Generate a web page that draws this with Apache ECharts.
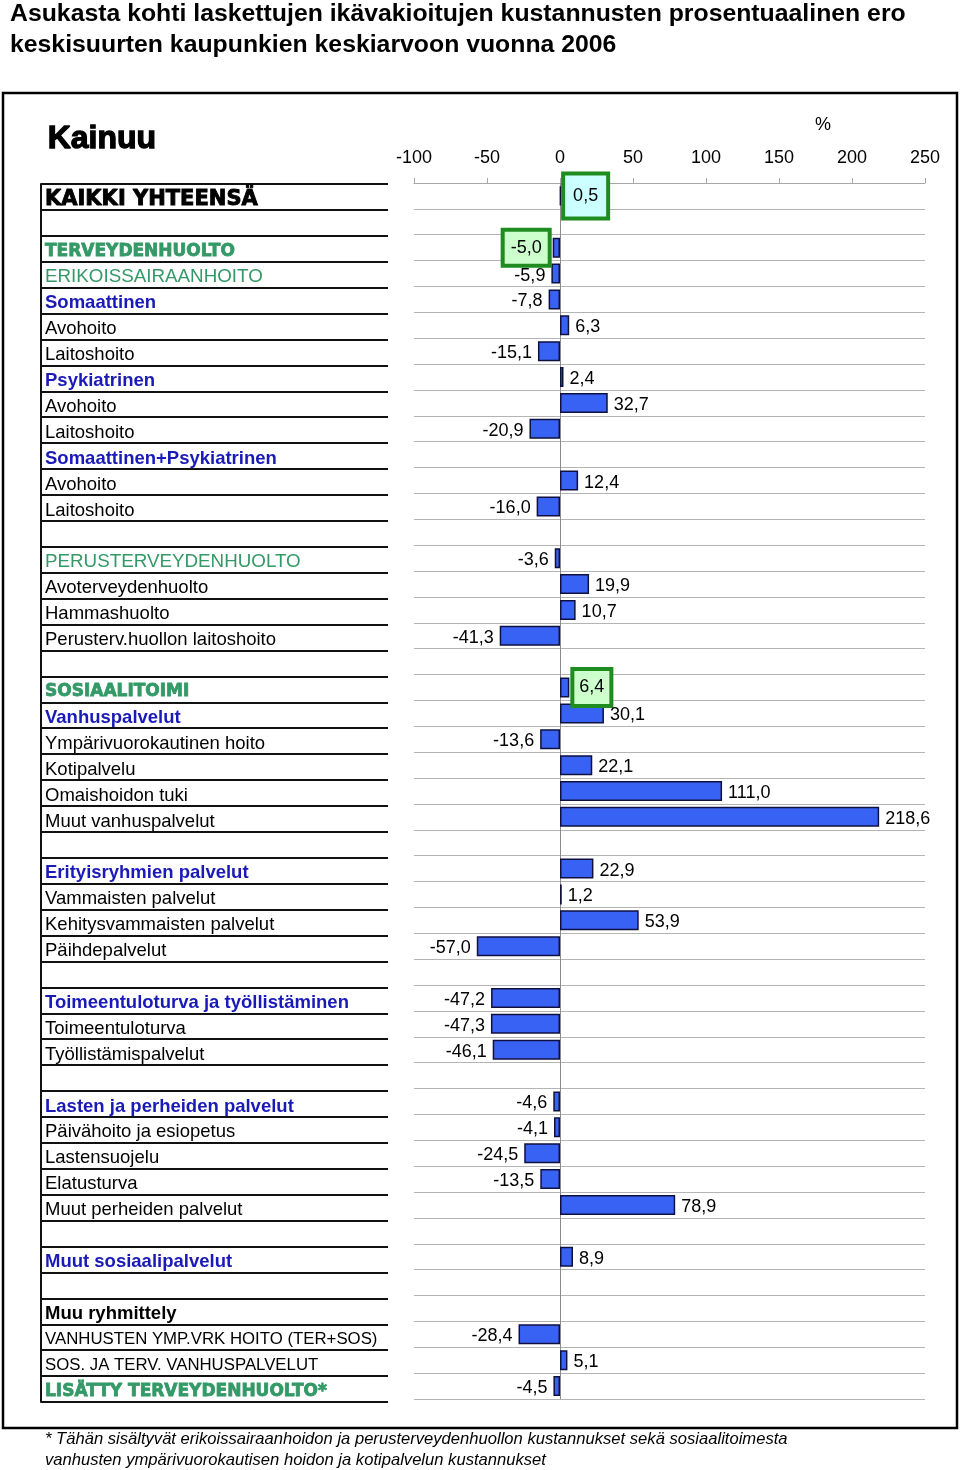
<!DOCTYPE html>
<html>
<head>
<meta charset="utf-8">
<script src="https://cdn.jsdelivr.net/npm/echarts@6/dist/echarts.min.js"></script>
<style>
html,body{margin:0;padding:0;background:#fff;}
#chart{width:960px;height:1470px;}
</style>
</head>
<body>
<div id="chart"></div>
<script>
const titleText = 'Asukasta kohti laskettujen ikävakioitujen kustannusten prosentuaalinen ero\nkeskisuurten kaupunkien keskiarvoon vuonna 2006';
const regionName = 'Kainuu';
const unitLabel = '%';
const footnote = '* Tähän sisältyvät erikoissairaanhoidon ja perusterveydenhuollon kustannukset sekä sosiaalitoimesta\nvanhusten ympärivuorokautisen hoidon ja kotipalvelun kustannukset';

const categories = [
  'KAIKKI YHTEENSÄ', '',
  'TERVEYDENHUOLTO', 'ERIKOISSAIRAANHOITO', 'Somaattinen', 'Avohoito', 'Laitoshoito',
  'Psykiatrinen', 'Avohoito', 'Laitoshoito', 'Somaattinen+Psykiatrinen', 'Avohoito', 'Laitoshoito', '',
  'PERUSTERVEYDENHUOLTO', 'Avoterveydenhuolto', 'Hammashuolto', 'Perusterv.huollon laitoshoito', '',
  'SOSIAALITOIMI', 'Vanhuspalvelut', 'Ympärivuorokautinen hoito', 'Kotipalvelu', 'Omaishoidon tuki', 'Muut vanhuspalvelut', '',
  'Erityisryhmien palvelut', 'Vammaisten palvelut', 'Kehitysvammaisten palvelut', 'Päihdepalvelut', '',
  'Toimeentuloturva ja työllistäminen', 'Toimeentuloturva', 'Työllistämispalvelut', '',
  'Lasten ja perheiden palvelut', 'Päivähoito ja esiopetus', 'Lastensuojelu', 'Elatusturva', 'Muut perheiden palvelut', '',
  'Muut sosiaalipalvelut', '',
  'Muu ryhmittely', 'VANHUSTEN YMP.VRK HOITO (TER+SOS)', 'SOS. JA TERV. VANHUSPALVELUT', 'LISÄTTY TERVEYDENHUOLTO*'
];

const rowKinds = [
  'total', 'blank',
  'sector', 'sector2', 'group', 'item', 'item',
  'group', 'item', 'item', 'group', 'item', 'item', 'blank',
  'sector2', 'item', 'item', 'item', 'blank',
  'sector', 'group', 'item', 'item', 'item', 'item', 'blank',
  'group', 'item', 'item', 'item', 'blank',
  'group', 'item', 'item', 'blank',
  'group', 'item', 'item', 'item', 'item', 'blank',
  'group', 'blank',
  'heading', 'caps', 'caps', 'sector'
];

const values = [
  0.5, null,
  -5.0, -5.9, -7.8, 6.3, -15.1,
  2.4, 32.7, -20.9, null, 12.4, -16.0, null,
  -3.6, 19.9, 10.7, -41.3, null,
  6.4, 30.1, -13.6, 22.1, 111.0, 218.6, null,
  22.9, 1.2, 53.9, -57.0, null,
  -47.2, -47.3, -46.1, null,
  -4.6, -4.1, -24.5, -13.5, 78.9, null,
  8.9, null,
  null, -28.4, 5.1, -4.5
];

const boxedRows = ['KAIKKI YHTEENSÄ', 'TERVEYDENHUOLTO', 'SOSIAALITOIMI'];

const xMin = -100, xMax = 250, xStep = 50;

const ARIAL = '"Liberation Sans", Arial, sans-serif';
const BLACKF = '"DejaVu Sans", "Liberation Sans", sans-serif';
const GREEN = '#339966';
const BLUE = '#1a1ab8';

const chart = echarts.init(document.getElementById('chart'), null, {renderer: 'canvas'});

const fmt = v => v.toFixed(1).replace('.', ',');

const barData = values.map((v, i) => {
  if (v === null) return {value: null};
  const item = {value: v, label: {position: v < 0 ? 'left' : 'right'}};
  const bi = boxedRows.indexOf(categories[i]);
  if (bi >= 0 && i < categories.length - 1) {
    item.label.backgroundColor = bi === 0 ? '#ccffff' : '#ccffcc';
    item.label.borderColor = '#1e8c1e';
    item.label.borderWidth = 4;
    item.label.padding = bi === 0 ? [12, 8, 11, 8] : (bi === 1 ? [8, 6, 6, 6] : [8, 5, 7, 5]);
    item.label.distance = bi === 0 ? 4 : 5;
    item.label.offset = [0, 0];
  }
  return item;
});

const PADT = [5, 0, 0, 0];
const rich = {
  total: {fontFamily: BLACKF, fontWeight: 'bold', fontSize: 21, color: '#000', textBorderColor: '#000', textBorderWidth: 0.9, padding: PADT},
  sector: {fontFamily: BLACKF, fontWeight: 'bold', fontSize: 17, color: GREEN, textBorderColor: GREEN, textBorderWidth: 0.8, padding: PADT},
  sector2: {fontFamily: ARIAL, fontSize: 18.8, color: GREEN, padding: PADT},
  group: {fontFamily: ARIAL, fontWeight: 'bold', fontSize: 18.5, color: BLUE, padding: PADT},
  item: {fontFamily: ARIAL, fontSize: 18.5, color: '#000', padding: PADT},
  heading: {fontFamily: ARIAL, fontWeight: 'bold', fontSize: 18.5, color: '#000', padding: PADT},
  caps: {fontFamily: ARIAL, fontSize: 16.8, color: '#000', padding: PADT},
  blank: {fontFamily: ARIAL, fontSize: 12}
};

const rowsTop = 183;
const rowsHeight = 1216;

const option = {
  animation: false,
  backgroundColor: '#fff',
  title: {
    text: titleText,
    left: 5, top: -6,
    textStyle: {fontFamily: ARIAL, fontWeight: 'bold', fontSize: 24.8, lineHeight: 31, color: '#000'}
  },
  graphic: [
    {type: 'rect', shape: {x: 3, y: 93, width: 954, height: 1335}, style: {fill: 'none', stroke: '#000', lineWidth: 2.5}, z: 0},
    {type: 'text', left: 47, top: 123, style: {text: regionName, font: 'bold 32px ' + ARIAL, fill: '#000', stroke: '#000', lineWidth: 1.3}},
    {type: 'text', left: 815, top: 116, style: {text: unitLabel, font: '18px ' + ARIAL, fill: '#000'}},
    {type: 'text', left: 45, top: 1429, style: {text: footnote, font: 'italic 16.6px ' + ARIAL, fill: '#000', lineHeight: 21}}
  ],
  grid: [
    {left: 414, right: 35, top: rowsTop, height: rowsHeight, containLabel: false},
    {left: 41, width: 347, top: rowsTop + 1, height: rowsHeight + 2, containLabel: false}
  ],
  xAxis: [
    {
      gridIndex: 0, type: 'value', position: 'top', min: xMin, max: xMax, interval: xStep,
      axisLine: {show: true, lineStyle: {color: '#a8a8a8', width: 1}},
      axisTick: {show: true, length: 5, lineStyle: {color: '#a8a8a8'}},
      axisLabel: {fontFamily: ARIAL, fontSize: 18, color: '#000', margin: 16},
      splitLine: {show: false}
    },
    {gridIndex: 1, type: 'value', min: 0, max: 1, show: false}
  ],
  yAxis: [
    {
      gridIndex: 0, type: 'category', inverse: true, data: categories,
      axisLine: {show: false}, axisTick: {show: false},
      axisLabel: {show: false},
      splitLine: {show: true, lineStyle: {color: '#b4b4b4', width: 1}}
    },
    {
      gridIndex: 1, type: 'category', inverse: true, data: categories,
      axisLine: {show: true, lineStyle: {color: '#111', width: 2}},
      axisTick: {show: false},
      splitLine: {show: true, lineStyle: {color: '#111', width: 2}},
      axisLabel: {
        show: true, inside: true, margin: 4, interval: 0, align: 'left',
        formatter: (val, idx) => {
          const t = categories[idx];
          if (!t) return '';
          return '{' + rowKinds[idx] + '|' + t + '}';
        },
        rich: rich
      }
    }
  ],
  series: [
    {
      type: 'bar', xAxisIndex: 0, yAxisIndex: 0,
      data: barData,
      barWidth: 20,
      itemStyle: {color: '#3862f4', borderColor: '#101040', borderWidth: 1.5},
      label: {
        show: true, distance: 6, offset: [0, 2],
        fontFamily: ARIAL, fontSize: 18, color: '#000',
        formatter: p => (p.value === null || p.value === undefined) ? '' : fmt(p.value)
      },
      markLine: {
        silent: true, symbol: 'none', label: {show: false},
        lineStyle: {color: '#8c8c8c', width: 1, type: 'solid'},
        data: [{xAxis: 0}],
        z: 1
      },
      z: 3
    },
    {
      type: 'scatter', xAxisIndex: 1, yAxisIndex: 1, data: [], silent: true
    }
  ]
};

chart.setOption(option);
</script>
</body>
</html>
